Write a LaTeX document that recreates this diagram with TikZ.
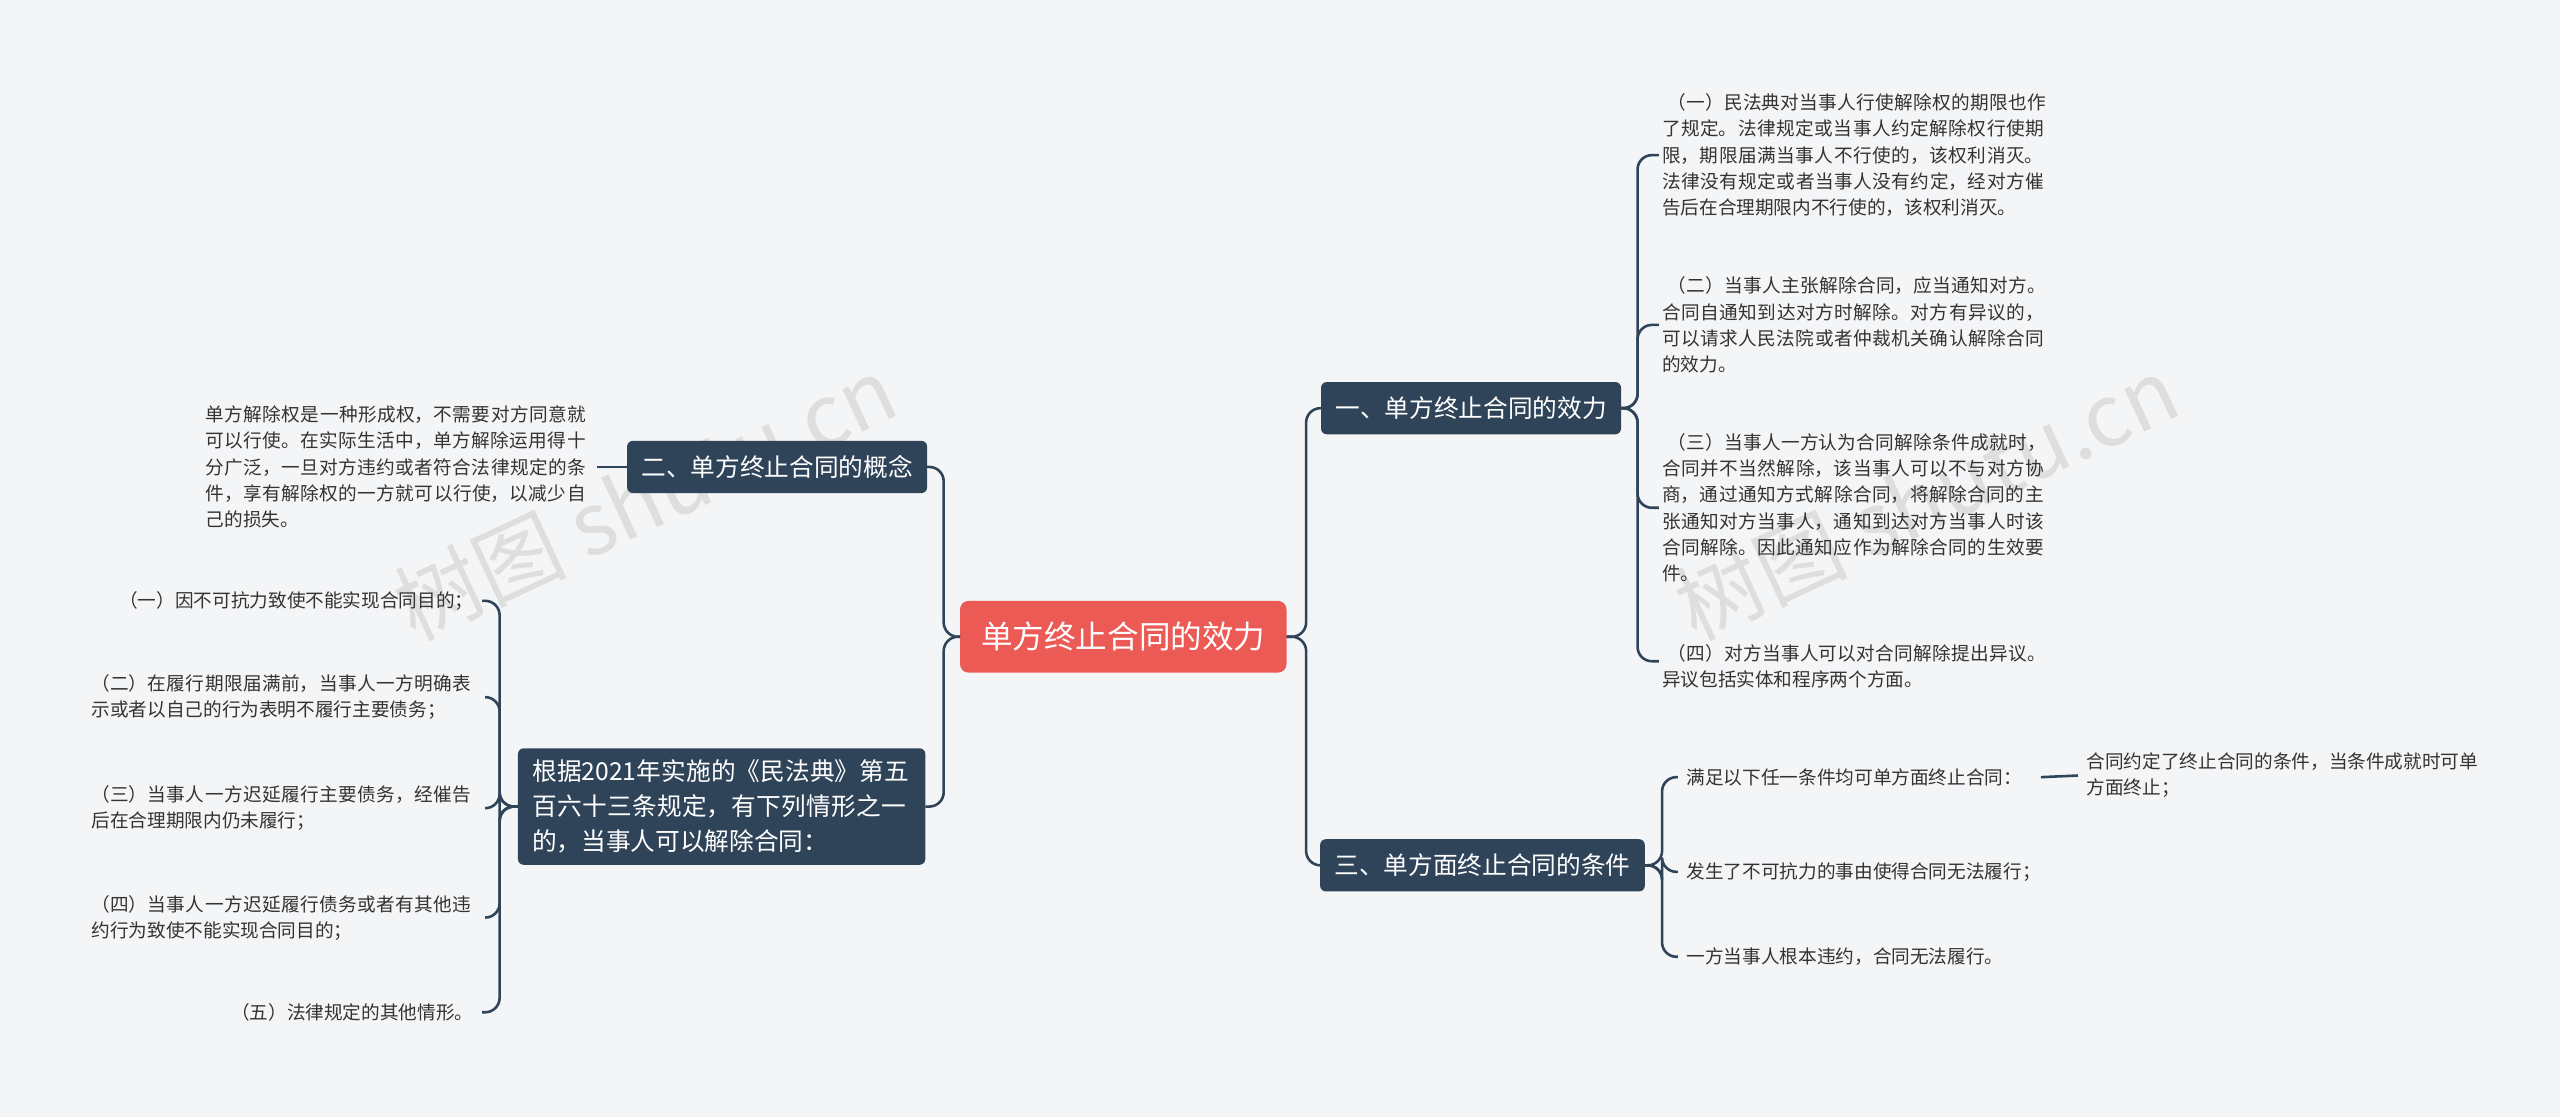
\documentclass[tikz,border=0pt]{standalone}
\usepackage{fontspec}
\setmainfont{Noto Sans CJK SC}
\XeTeXlinebreaklocale "zh"
\XeTeXlinebreakskip=0pt plus 1pt
\begin{document}
\begin{tikzpicture}[x=0.02cm,y=-0.02cm,
  every node/.style={inner sep=0pt,outer sep=0pt},
  l1/.style={fill=dk,text=white,rounded corners=2pt,font=\fontsize{8.6}{11}\selectfont,inner xsep=5pt,inner ysep=4pt},
  leaf/.style={text=tx,font=\fontsize{6.5}{9.1}\selectfont,align=left},
  leafr/.style={text=tx,font=\fontsize{6.5}{9.1}\selectfont,align=left},
  conn/.style={draw=dk,line width=0.9pt,rounded corners=5pt}]
\definecolor{bg}{HTML}{F4F5F7}\definecolor{dk}{HTML}{2F4459}\definecolor{tx}{HTML}{333333}\definecolor{rd}{HTML}{EB5A55}
\fill[bg] (0,0) rectangle (1568,684);
\node[font=\fontsize{30}{30}\selectfont,text=black!13,rotate=25] (wm1) at (395,305) {树图 shutu.cn};
\node[font=\fontsize{30}{30}\selectfont,text=black!13,rotate=25] (wm2) at (1180,305) {树图 shutu.cn};
\node[fill=rd,text=white,rounded corners=3pt,minimum width=4cm,minimum height=0.88cm,font=\fontsize{11}{13}\selectfont] (c) at (688,390) {单方终止合同的效力};
\node[l1,minimum width=3.6cm,minimum height=0.64cm] (a) at (901,250) {一、单方终止合同的效力};
\node[l1,minimum width=3.88cm,minimum height=0.64cm] (b) at (908,530) {三、单方面终止合同的条件};
\node[l1,minimum width=3.6cm,minimum height=0.64cm] (d) at (476,286) {二、单方终止合同的概念};
\node[l1,text width=4.64cm,align=left,font=\fontsize{8.6}{12.2}\selectfont] (e) at (442,494) {根据2021年实施的《民法典》第五百六十三条规定，有下列情形之一的，当事人可以解除合同：};
\draw[conn] (c.east) -- (800,390) |- (a.west);
\draw[conn] (c.east) -- (800,390) |- (b.west);
\draw[conn] (c.west) -- (578,390) |- (d.east);
\draw[conn] (c.west) -- (578,390) |- (e.east);
% right leaves of a
\node[leaf,text width=4.76cm,anchor=west] (a1) at (1018,95) {\hspace{2pt}（一）民法典对当事人行使解除权的期限也作了规定。法律规定或当事人约定解除权行使期限，期限届满当事人不行使的，该权利消灭。法律没有规定或者当事人没有约定，经对方催告后在合理期限内不行使的，该权利消灭。};
\node[leaf,text width=4.76cm,anchor=west] (a2) at (1018,199) {\hspace{2pt}（二）当事人主张解除合同，应当通知对方。合同自通知到达对方时解除。对方有异议的，可以请求人民法院或者仲裁机关确认解除合同的效力。};
\node[leaf,text width=4.76cm,anchor=west] (a3) at (1018,311) {\hspace{2pt}（三）当事人一方认为合同解除条件成就时，合同并不当然解除，该当事人可以不与对方协商，通过通知方式解除合同，将解除合同的主张通知对方当事人，通知到达对方当事人时该合同解除。因此通知应作为解除合同的生效要件。};
\node[leaf,text width=4.76cm,anchor=west] (a4) at (1018,408) {\hspace{2pt}（四）对方当事人可以对合同解除提出异议。异议包括实体和程序两个方面。};
\foreach \n/\y in {a1/95,a2/199,a3/311,a4/405}{\draw[conn] (a.east) -- (1003,250) |- (1016,\y);}
% leaves of b
\node[leaf,anchor=west] (b1) at (1033,476) {满足以下任一条件均可单方面终止合同：};
\node[leaf,anchor=west] (b2) at (1033,534) {发生了不可抗力的事由使得合同无法履行；};
\node[leaf,anchor=west] (b3) at (1033,586) {一方当事人根本违约，合同无法履行。};
\foreach \n in {b1,b2,b3}{\draw[conn] (b.east) -- (1018,530) |- ([xshift=-3pt]\n.west);}
\node[leaf,text width=4.8cm,anchor=west] (b1a) at (1278,475) {合同约定了终止合同的条件，当条件成就时可单方面终止；};
\draw[conn] (1250,476) -- ([xshift=-3pt]b1a.west);
% leaf of d
\node[leaf,text width=4.72cm,anchor=east] (d1) at (362,286) {单方解除权是一种形成权，不需要对方同意就可以行使。在实际生活中，单方解除运用得十分广泛，一旦对方违约或者符合法律规定的条件，享有解除权的一方就可以行使，以减少自己的损失。};
\draw[conn] (d.west) -- ([xshift=2pt]d1.east);
% leaves of e
\node[leafr,anchor=east] (e1) at (290,368) {（一）因不可抗力致使不能实现合同目的；};
\node[leafr,text width=4.72cm,anchor=east] (e2) at (292,427) {（二）在履行期限届满前，当事人一方明确表示或者以自己的行为表明不履行主要债务；};
\node[leafr,text width=4.72cm,anchor=east] (e3) at (292,495) {（三）当事人一方迟延履行主要债务，经催告后在合理期限内仍未履行；};
\node[leafr,text width=4.72cm,anchor=east] (e4) at (292,562) {（四）当事人一方迟延履行债务或者有其他违约行为致使不能实现合同目的；};
\node[leafr,anchor=east] (e5) at (290,620) {（五）法律规定的其他情形。};
\foreach \n in {e1,e2,e3,e4,e5}{\draw[conn] (e.west) -- (306,494) |- ([xshift=3pt]\n.east);}
\end{tikzpicture}
\end{document}
